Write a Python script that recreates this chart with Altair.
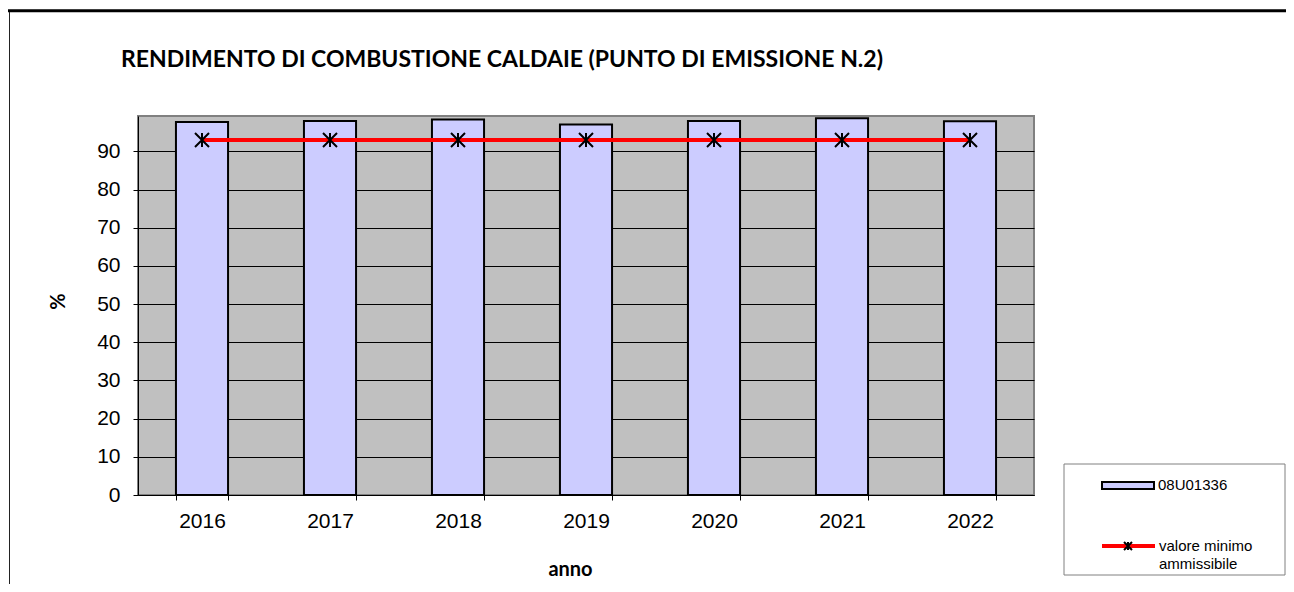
import altair as alt
import pandas as pd

# ---- data ----
anni = ["2016", "2017", "2018", "2019", "2020", "2021", "2022"]
rendimento = [97.7, 98.0, 98.4, 97.1, 98.0, 98.7, 97.9]
valore_minimo = [93, 93, 93, 93, 93, 93, 93]
y_ticks = [0, 10, 20, 30, 40, 50, 60, 70, 80, 90]
serie_barre = ["08U01336"]
serie_linea = ["valore minimo", "ammissibile"]
titolo = ["RENDIMENTO DI COMBUSTIONE CALDAIE (PUNTO DI EMISSIONE N.2)"]
titolo_x = "anno"
titolo_y = "%"

W, H = 896, 379
STAR = "M-1,-1L1,1M-1,1L1,-1M0,-1L0,1"
LABEL_FONT = "Liberation Sans"
TITLE_FONT = "Lato"

df = pd.DataFrame({"anno": anni, "rendimento": rendimento, "minimo": valore_minimo})

x = alt.X(
    "anno:N",
    sort=anni,
    scale=alt.Scale(paddingInner=0.593, paddingOuter=0.2965),
    axis=alt.Axis(
        title=titolo_x,
        labelAngle=0,
        tickBand="extent",
        tickSize=5,
        tickColor="black",
        domainColor="black",
        labelFont=LABEL_FONT,
        labelFontSize=21,
        labelColor="black",
        labelPadding=10,
        titleFont=TITLE_FONT,
        titleFontSize=20,
        titleFontWeight="bold",
        titleColor="black",
        titleX=432,
        titleY=80,
        titleAlign="center",
        titleBaseline="alphabetic",
        grid=False,
    ),
)

y_axis = alt.Axis(
    title=titolo_y,
    values=y_ticks,
    grid=True,
    gridColor="black",
    gridWidth=1,
    gridOpacity=1,
    tickSize=5,
    tickColor="black",
    domainColor="black",
    labelFont=LABEL_FONT,
    labelFontSize=21,
    labelColor="black",
    labelPadding=13,
    titleFont=TITLE_FONT,
    titleFontSize=20,
    titleFontWeight="bold",
    titleColor="black",
    titleX=-74,
    titleY=185,
    titleAlign="center",
    titleBaseline="alphabetic",
)
y_scale = alt.Scale(domain=[0, 99.3], nice=False, zero=True)

bars = alt.Chart(df).mark_bar(fill="#CCCCFF", stroke="black", strokeWidth=2).encode(
    x=x, y=alt.Y("rendimento:Q", scale=y_scale, axis=y_axis)
)
line = alt.Chart(df).mark_line(color="#FF0000", strokeWidth=4).encode(
    x=x, y=alt.Y("minimo:Q", scale=y_scale)
)
stars = alt.Chart(df).mark_point(
    shape=STAR, size=196, color="black", strokeWidth=2, filled=False, opacity=1
).encode(x=x, y=alt.Y("minimo:Q", scale=y_scale))

# ---- title ----
title_df = pd.DataFrame({"t": titolo})
title = alt.Chart(title_df).mark_text(
    font=TITLE_FONT, fontSize=23, fontWeight="bold", align="left",
    baseline="alphabetic", color="black"
).encode(text="t:N", x=alt.value(-17), y=alt.value(-49.3))

# ---- page frame ----
one = pd.DataFrame({"k": [0]})
top_rule = alt.Chart(one).mark_rule(color="black", strokeWidth=3).encode(
    x=alt.value(-130), x2=alt.value(1148), y=alt.value(-105.2)
)
left_rule = alt.Chart(one).mark_rule(color="#222222", strokeWidth=1).encode(
    x=alt.value(-128.5), y=alt.value(-104), y2=alt.value(468)
)

# ---- legend ----
leg_box = alt.Chart(one).mark_rect(fill="white", stroke="#808080", strokeWidth=1).encode(
    x=alt.value(926), x2=alt.value(1147), y=alt.value(348), y2=alt.value(459)
)
leg_bar = alt.Chart(one).mark_rect(fill="#CCCCFF", stroke="black", strokeWidth=2).encode(
    x=alt.value(964), x2=alt.value(1016), y=alt.value(366), y2=alt.value(373)
)
leg_bar_txt = alt.Chart(pd.DataFrame({"t": serie_barre})).mark_text(
    font=LABEL_FONT, fontSize=15, align="left", baseline="middle", color="black"
).encode(text="t:N", x=alt.value(1020), y=alt.value(369))
leg_line = alt.Chart(one).mark_rule(color="#FF0000", strokeWidth=4).encode(
    x=alt.value(964), x2=alt.value(1017), y=alt.value(430)
)
leg_star = alt.Chart(one).mark_point(
    shape=STAR, size=64, color="black", strokeWidth=2, filled=False, opacity=1
).encode(x=alt.value(990), y=alt.value(430))
leg_line_txt1 = alt.Chart(pd.DataFrame({"t": serie_linea[:1]})).mark_text(
    font=LABEL_FONT, fontSize=15, align="left", baseline="middle", color="black"
).encode(text="t:N", x=alt.value(1021), y=alt.value(430))
leg_line_txt2 = alt.Chart(pd.DataFrame({"t": serie_linea[1:]})).mark_text(
    font=LABEL_FONT, fontSize=15, align="left", baseline="middle", color="black"
).encode(text="t:N", x=alt.value(1021), y=alt.value(448))

chart = alt.layer(
    bars, line, stars, title, top_rule, left_rule,
    leg_box, leg_bar, leg_bar_txt, leg_line, leg_star, leg_line_txt1, leg_line_txt2,
).properties(
    width=W,
    height=H,
    padding={"left": 130, "top": 108, "right": 252, "bottom": 89},
    autosize=alt.AutoSizeParams(type="none"),
    background="white",
).configure_view(
    fill="#C0C0C0", stroke="#808080", strokeWidth=2
)

chart.save("out.html", embed_options={"renderer": "svg", "actions": False})
